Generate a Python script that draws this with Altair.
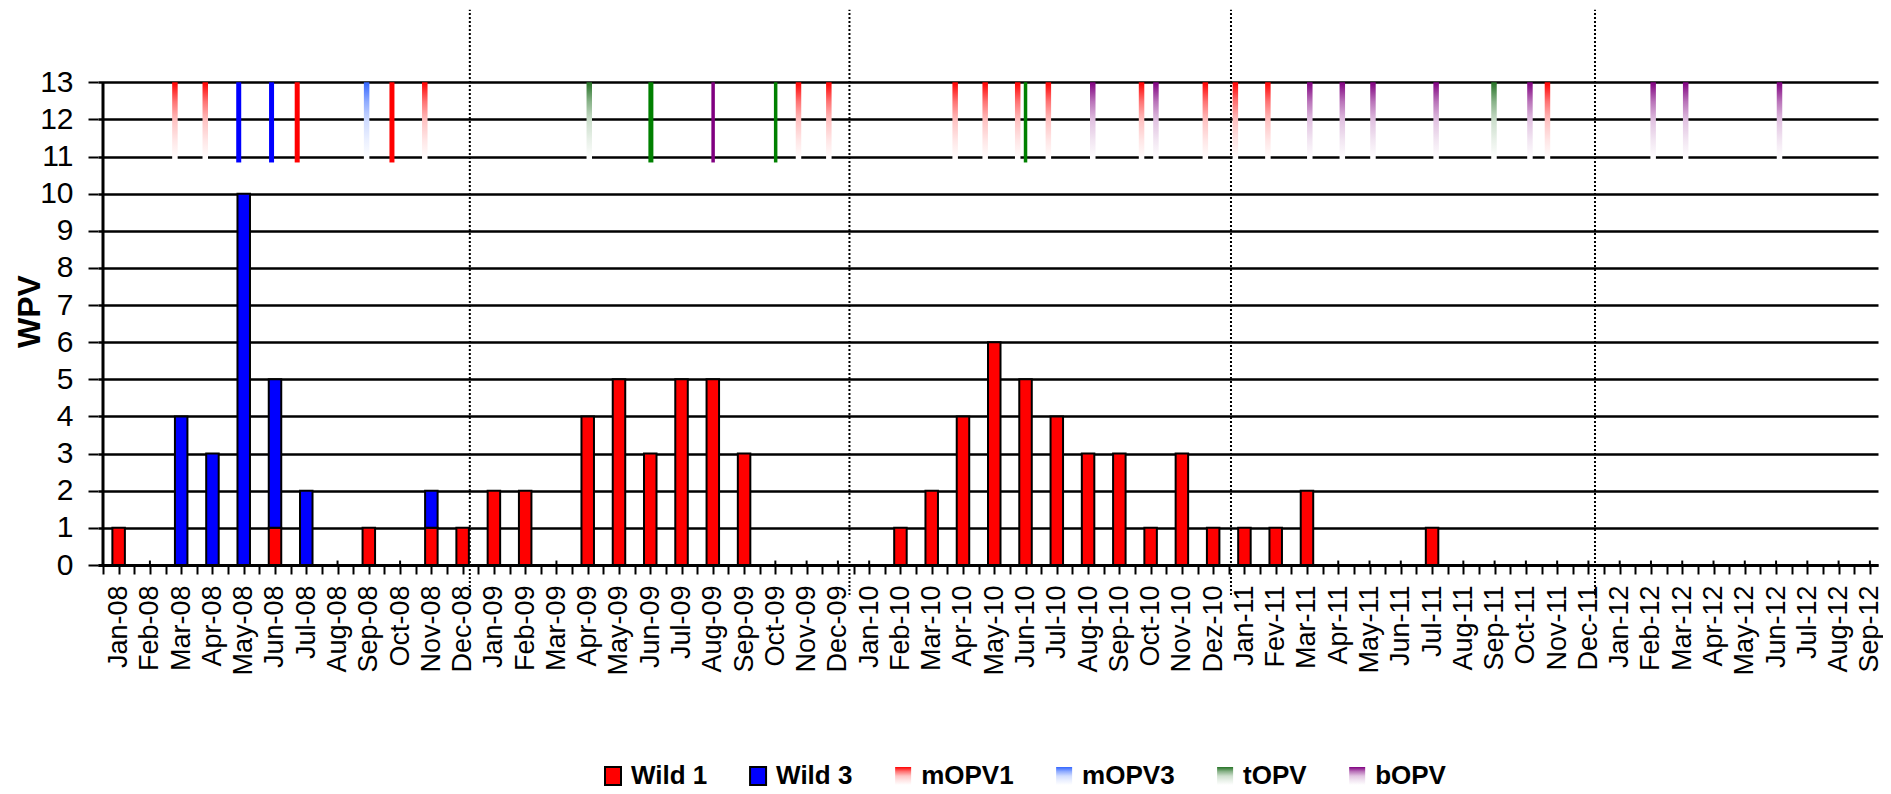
import json
import altair as alt
import pandas as pd

# ---------------- data ----------------
months = [
    "Jan-08", "Feb-08", "Mar-08", "Apr-08", "May-08", "Jun-08", "Jul-08", "Aug-08", "Sep-08", "Oct-08", "Nov-08", "Dec-08",
    "Jan-09", "Feb-09", "Mar-09", "Apr-09", "May-09", "Jun-09", "Jul-09", "Aug-09", "Sep-09", "Oct-09", "Nov-09", "Dec-09",
    "Jan-10", "Feb-10", "Mar-10", "Apr-10", "May-10", "Jun-10", "Jul-10", "Aug-10", "Sep-10", "Oct-10", "Nov-10", "Dez-10",
    "Jan-11", "Fev-11", "Mar-11", "Apr-11", "May-11", "Jun-11", "Jul-11", "Aug-11", "Sep-11", "Oct-11", "Nov-11", "Dec-11",
    "Jan-12", "Feb-12", "Mar-12", "Apr-12", "May-12", "Jun-12", "Jul-12", "Aug-12", "Sep-12",
]
wild1 = [1, 0, 0, 0, 0, 1, 0, 0, 1, 0, 1, 1,
         2, 2, 0, 4, 5, 3, 5, 5, 3, 0, 0, 0,
         0, 1, 2, 4, 6, 5, 4, 3, 3, 1, 3, 1,
         1, 1, 2, 0, 0, 0, 1, 0, 0, 0, 0, 0,
         0, 0, 0, 0, 0, 0, 0, 0, 0]
wild3 = [0, 0, 4, 3, 10, 4, 2, 0, 0, 0, 1, 0,
         0, 0, 0, 0, 0, 0, 0, 0, 0, 0, 0, 0,
         0, 0, 0, 0, 0, 0, 0, 0, 0, 0, 0, 0,
         0, 0, 0, 0, 0, 0, 0, 0, 0, 0, 0, 0,
         0, 0, 0, 0, 0, 0, 0, 0, 0]

# vaccination campaigns (position in months from Jan-08)
mopv1_pos = [1.80, 2.77, 9.79, 21.74, 22.71, 26.75, 27.71, 28.75, 29.73, 32.71, 34.75, 35.71, 36.75, 45.69]
mopv3_pos = [7.93]
topv_pos = [15.05, 43.98]
bopv_pos = [31.15, 33.17, 38.09, 39.13, 40.11, 42.13, 45.13, 49.07, 50.11, 53.11]
solid_pos = [3.84, 4.89, 5.71, 8.74, 17.02, 19.01, 21.01, 29.00]
solid_vaccine = ["mOPV3", "mOPV3", "mOPV1", "mOPV1", "tOPV", "bOPV", "tOPV", "tOPV"]
solid_kind = ["thick", "thick", "thick", "thick", "thick", "thin", "thin", "thin"]

year_breaks = [11.23, 23.37, 35.57, 47.21]

legend_items = ["Wild 1", "Wild 3", "mOPV1", "mOPV3", "tOPV", "bOPV"]

# ---------------- styles ----------------
FONT = "Liberation Sans"
RED, BLUE = "#FF0000", "#0000FF"
grad_base = {"mOPV1": "#FF0000", "mOPV3": "#3366FF", "tOPV": "#267326", "bOPV": "#800080"}
solid_color = {"mOPV1": "#FF0000", "mOPV3": "#0000FF", "tOPV": "#008000", "bOPV": "#800080"}
wild_color = {"Wild 1": RED, "Wild 3": BLUE}


def tint(hexc, t):
    r, g, b = int(hexc[1:3], 16), int(hexc[3:5], 16), int(hexc[5:7], 16)
    f = lambda c: int(round(c + (255 - c) * t))
    return "#{:02X}{:02X}{:02X}".format(f(r), f(g), f(b))


def grad_alt(hexc):
    offs = [0, 0.25, 0.5, 0.75, 1]
    ts = [0, 0.45, 0.77, 0.9, 1]
    return alt.LinearGradient(gradient="linear", x1=0, y1=0, x2=0, y2=1,
                              stops=[alt.GradientStop(offset=o, color=tint(hexc, t)) for o, t in zip(offs, ts)])


# ---------------- tables ----------------
n = len(months)
bars = pd.DataFrame(
    [{"m": i, "series": "Wild 1", "v": wild1[i], "ord": 0} for i in range(n)] +
    [{"m": i, "series": "Wild 3", "v": wild3[i], "ord": 1} for i in range(n)]
)
bars = bars[bars.v > 0]

camp = pd.DataFrame(
    [{"pos": p, "vac": "mOPV1"} for p in mopv1_pos] +
    [{"pos": p, "vac": "mOPV3"} for p in mopv3_pos] +
    [{"pos": p, "vac": "tOPV"} for p in topv_pos] +
    [{"pos": p, "vac": "bOPV"} for p in bopv_pos]
)
solid = pd.DataFrame({"pos": solid_pos, "vac": solid_vaccine, "kind": solid_kind})
solid["c"] = solid.vac.map(solid_color)
breaks = pd.DataFrame({"pos": year_breaks})
mdf = pd.DataFrame({"m": list(range(n))})

# ---------------- legend layout (like a horizontal legend: swatch, label, padding) ----------------
BOLD_W = {"W": .944, "i": .278, "l": .278, "d": .611, " ": .278, "1": .556, "3": .556, "m": .889,
          "O": .778, "P": .667, "V": .667, "t": .333, "b": .611}
LEG_FS, SW, SH, LAB_OFF, COL_PAD = 26, 16, 18, 10, 42.5
LEG_X0, LEG_Y = 507, 768
rows, cur = [], LEG_X0
for it in legend_items:
    w = sum(BOLD_W.get(ch, .6) for ch in it) * LEG_FS
    rows.append({"label": it, "sx": cur, "sx2": cur + SW, "tx": cur + SW + LAB_OFF,
                 "c": wild_color.get(it, "#000000")})
    cur += SW + LAB_OFF + w + COL_PAD
leg = pd.DataFrame(rows)

XMIN, XMAX = -0.5, 56.1
xs = alt.Scale(domain=[XMIN, XMAX], nice=False, zero=False)
ys = alt.Scale(domain=[0, 15], nice=False, zero=False)

tick_vals = [i / 2 - 0.5 for i in range(0, 2 * n + 1) if i / 2 - 0.5 <= XMAX]
label_expr = ("datum.value % 1 === 0 && datum.value >= 0 ? " + json.dumps(months) + "[datum.value] : ''")

XAX = dict(grid=False, domainColor="black", domainWidth=3, tickColor="black", tickWidth=2, tickSize=9,
           labelFont=FONT, labelFontSize=27, labelColor="black", labelPadding=11,
           labelOverlap=False, labelFlush=False, labelAngle=-90)
YAX = dict(grid=True, gridColor="black", gridWidth=2.5, domain=False,
           tickColor="black", tickWidth=2, tickSize=10, labelFont=FONT, labelFontSize=30,
           labelColor="black", labelPadding=15, titleFont=FONT, titleFontSize=32,
           titleFontWeight="bold", titleColor="black", titlePadding=-7)

x_axis = alt.Axis(values=tick_vals, labelExpr=label_expr, title=None, **XAX)
y_axis = alt.Axis(values=list(range(14)), title="WPV", titleY=303, **YAX)


def X(field=None, datum=None):
    if datum is not None:
        return alt.X(datum=datum, type="quantitative", scale=xs, axis=x_axis, title=None)
    return alt.X(field, type="quantitative", scale=xs, axis=x_axis, title=None)


def Y(field=None, datum=None, **kw):
    if datum is not None:
        return alt.Y(datum=datum, type="quantitative", scale=ys, axis=y_axis, title="WPV")
    return alt.Y(field, type="quantitative", scale=ys, axis=y_axis, title="WPV", **kw)


# ---------------- layers ----------------
dotted = alt.Chart(breaks).mark_rule(color="black", strokeWidth=2, strokeDash=[2, 2]).encode(
    x=X("pos"), y=Y(datum=-0.81), y2=alt.Y2(datum=14.95),
)

mticks = alt.Chart(mdf).mark_rule(color="black", strokeWidth=2).encode(
    x=X("m"), y=Y(datum=0), y2=alt.Y2(datum=0.12),
)

main = alt.Chart(bars).mark_bar(size=12.5, stroke="black", strokeWidth=2, opacity=1).encode(
    x=X("m"),
    y=Y("v", stack="zero"),
    color=alt.Color("series:N", scale=alt.Scale(domain=["Wild 1", "Wild 3"], range=[RED, BLUE]), legend=None),
    order=alt.Order("ord:Q"),
)

grad_layers = []
for k in ["mOPV1", "mOPV3", "tOPV", "bOPV"]:
    grad_layers.append(
        alt.Chart(camp).transform_filter(alt.datum.vac == k).mark_bar(size=5.5, color=grad_alt(grad_base[k])).encode(
            x=X("pos"), y=Y(datum=13), y2=alt.Y2(datum=10.92),
        )
    )

solid_layer = alt.Chart(solid).mark_bar().encode(
    x=X("pos"), y=Y(datum=13), y2=alt.Y2(datum=10.84),
    fill=alt.Fill("c:N", scale=None),
    size=alt.Size("kind:N", scale=alt.Scale(domain=["thick", "thin"], range=[5, 3.5]), legend=None),
)

yline = alt.Chart(mdf.head(1)).mark_rule(color="black", strokeWidth=3).encode(
    x=X(datum=XMIN), y=Y(datum=0), y2=alt.Y2(datum=13),
)

# legend layers
leg_wild = alt.Chart(leg).transform_filter("datum.label === 'Wild 1' || datum.label === 'Wild 3'").mark_rect(
    stroke="black", strokeWidth=2).encode(
    x=alt.X("sx:Q", scale=None), x2="sx2:Q",
    y=alt.value(LEG_Y - SH / 2), y2=alt.value(LEG_Y + SH / 2),
    fill=alt.Fill("c:N", scale=None),
)
leg_grad = []
for k in ["mOPV1", "mOPV3", "tOPV", "bOPV"]:
    leg_grad.append(
        alt.Chart(leg).transform_filter(alt.datum.label == k).mark_rect(color=grad_alt(grad_base[k])).encode(
            x=alt.X("sx:Q", scale=None), x2="sx2:Q",
            y=alt.value(LEG_Y - SH / 2), y2=alt.value(LEG_Y + SH / 2),
        )
    )
leg_text = alt.Chart(leg).mark_text(align="left", baseline="middle", font=FONT, fontSize=LEG_FS,
                                    fontWeight="bold", color="black").encode(
    x=alt.X("tx:Q", scale=None), y=alt.value(LEG_Y), text="label:N",
)

chart = alt.layer(dotted, mticks, main, *grad_layers, solid_layer, yline, leg_wild, *leg_grad, leg_text).properties(
    width=1780, height=557,
    padding={"left": 5, "top": 0, "right": 0, "bottom": 0},
    background="white",
).configure_view(stroke=None).configure_axisX(**XAX).configure_axisY(**YAX)

chart.save("out.html", embed_options={"renderer": "svg", "actions": False})
